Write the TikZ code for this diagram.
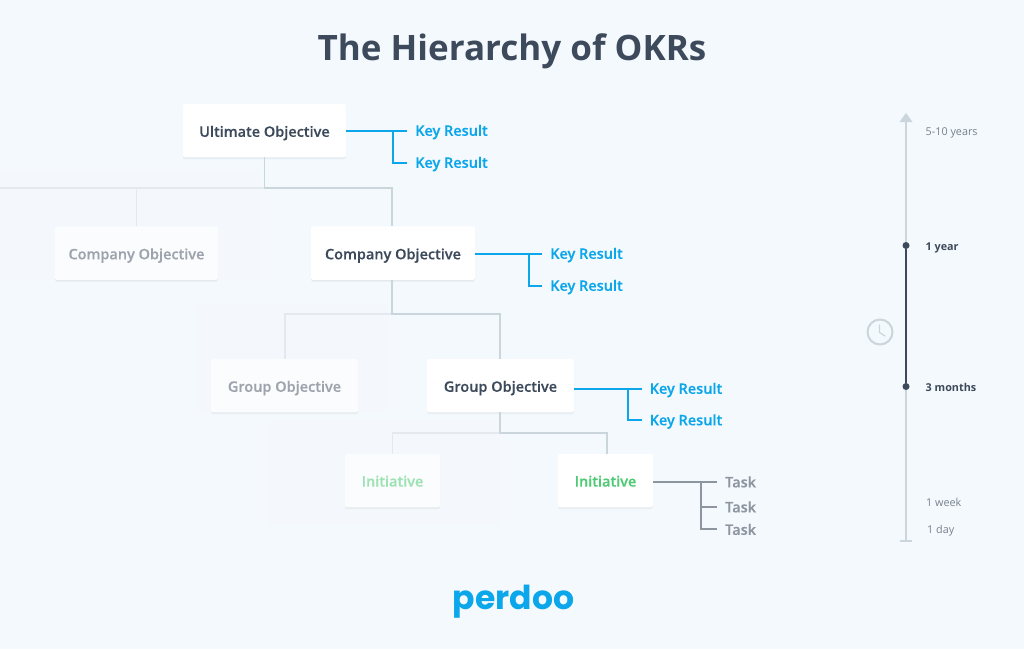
\documentclass[tikz,border=0pt]{standalone}
\usepackage{fontspec}
\setmainfont{Open Sans}
\newfontfamily\semifont[UprightFont=* Semibold,FakeBold=0.25]{Open Sans}
\newfontfamily\logofont[UprightFont=* Bold]{Poppins}
\usetikzlibrary{calc}
\definecolor{bgc}{HTML}{F4F9FD}
\definecolor{ink}{HTML}{3D4A5C}
\definecolor{blueL}{HTML}{0CA7EA}
\definecolor{greyL}{HTML}{CBD5DC}
\definecolor{fadeL}{HTML}{E3E9EE}
\definecolor{taskc}{HTML}{8D95A0}
\definecolor{greenT}{HTML}{4CCB73}
\definecolor{panel}{HTML}{F4F7FB}
\tikzset{
  x=1pt,y=-1pt,
  softshadow/.style={preaction={fill=black,fill opacity=.03,draw=none,rounded corners=2pt,transform canvas={yshift=-2pt},outer sep=0pt},
    preaction={fill=black,fill opacity=.03,draw=none,rounded corners=2pt,transform canvas={yshift=-1pt}}},
  card/.style={fill=white,rounded corners=1.5pt,softshadow,inner sep=0pt,font=\semifont\fontsize{14.5}{16}\selectfont,text=ink,minimum height=53.5pt,text height=15.6pt,text depth=3pt},
  faded/.style={card,fill=white!55!bgc,text=ink!50!white},
  initcard/.style={text height=12.1pt,text depth=0pt},
  keyres/.style={anchor=west,inner sep=0pt,text=blueL,font=\semifont\fontsize{14.5}{16}\selectfont,text height=13.6pt,text depth=3pt},
  tasktxt/.style={anchor=west,inner sep=0pt,text=taskc,font=\semifont\fontsize{14.5}{16}\selectfont,text height=11.7pt,text depth=0pt},
  blueline/.style={draw=blueL,line width=2pt},
  taskline/.style={draw=taskc,line width=2pt},
  link/.style={draw=greyL,line width=1.6pt},
  fadelink/.style={draw=fadeL,line width=1.5pt},
  timetxt/.style={anchor=west,inner sep=0pt,text=ink!70!white,font=\fontsize{10.8}{12}\selectfont},
  timebold/.style={anchor=west,inner sep=0pt,text=ink,font=\bfseries\fontsize{10.8}{12}\selectfont},
  dot/.style={circle,fill=ink,inner sep=0pt,minimum size=7pt},
}
\begin{document}
\begin{tikzpicture}
\useasboundingbox (0,0) rectangle (1024,649);
\fill[bgc] (0,0) rectangle (1024,649);
% faded panels
\fill[panel] (0,170) rectangle (260,280);
\fill[panel] (197,305) rectangle (388,412);
\fill[panel] (268,420) rectangle (500,525);
% title
\node[inner sep=0pt,text=ink,font=\bfseries\fontsize{35}{40}\selectfont] (title) at (512,51) {The Hierarchy of OKRs};
% cards
\node[card,minimum width=163pt] (uo) at (264.5,130.5) {Ultimate Objective};
\node[faded,minimum width=163pt] (co1) at (136.5,253) {Company Objective};
\node[card,minimum width=164pt] (co2) at (393,253) {Company Objective};
\node[faded,minimum width=147pt] (go1) at (284.5,385.5) {Group Objective};
\node[card,minimum width=147pt] (go2) at (500.5,385.5) {Group Objective};
\node[faded,initcard,minimum width=95pt,text=greenT!55!white] (in1) at (392.5,480.5) {Initiative};
\node[card,initcard,minimum width=95pt,text=greenT] (in2) at (605.5,480.5) {Initiative};
% tree links
\coordinate (edgeL) at (0,188);
\coordinate (j1) at (264.5,188);
\coordinate (j1b) at (136.5,188);
\coordinate (j1c) at (392,188);
\coordinate (j2) at (392,314);
\coordinate (j2b) at (285,314);
\coordinate (j2c) at (500,314);
\coordinate (j3) at (500,433);
\coordinate (j3b) at (392.5,433);
\coordinate (j3c) at (607,433);
\draw[fadelink] (edgeL) -- (j1) (j1b) -- (co1.north);
\draw[fadelink] (j2) -- (j2b) -- (go1.north -| j2b);
\draw[fadelink] (j3) -- (j3b) -- (in1.north);
\draw[link] (uo.south) -- (j1) -- (j1c) -- (co2.north -| j1c);
\draw[link] (co2.south -| j2) -- (j2) -- (j2c) -- (go2.north -| j2c);
\draw[link] (go2.south -| j3) -- (j3) -- (j3c) -- (in2.north -| j3c);
% key results
\node[keyres] (k1) at (415,130.5) {Key Result};
\node[keyres] (k2) at (415,162.5) {Key Result};
\node[keyres] (k3) at (550,253.5) {Key Result};
\node[keyres] (k4) at (550,285.5) {Key Result};
\node[keyres] (k5) at (649.5,388.5) {Key Result};
\node[keyres] (k6) at (649.5,420) {Key Result};
\draw[blueline] (uo.east |- k1) -- ($(k1.west)+(-8,0)$);
\draw[blueline] (393,130.5) -- (393,162.5) -- ($(k2.west)+(-8,0)$);
\draw[blueline] (co2.east |- k3) -- ($(k3.west)+(-8,0)$);
\draw[blueline] (529,253.5) -- (529,285.5) -- ($(k4.west)+(-8,0)$);
\draw[blueline] (go2.east |- k5) -- ($(k5.west)+(-8,0)$);
\draw[blueline] (628,388.5) -- (628,420) -- ($(k6.west)+(-8,0)$);
% tasks
\node[tasktxt] (t1) at (725,481.5) {Task};
\node[tasktxt] (t2) at (725,506.5) {Task};
\node[tasktxt] (t3) at (725,529) {Task};
\draw[taskline] (in2.east |- t1) -- ($(t1.west)+(-8,0)$);
\draw[taskline] (701,481.5) -- (701,529) -- ($(t3.west)+(-8,0)$);
\draw[taskline] (701,506.5) -- ($(t2.west)+(-8,0)$);
% timeline
\coordinate (tTop) at (906,118);
\coordinate (tBot) at (906,541);
\draw[greyL,line width=1.7pt] (tTop) -- (tBot);
\fill[greyL] (899.5,122) -- (906,113) -- (912.5,122) -- cycle;
\draw[greyL,line width=1.5pt] (900,541) -- (912,541);
\node[dot] (d1) at (906,245.5) {};
\node[dot] (d2) at (906,386.5) {};
\draw[ink,line width=2pt] (d1) -- (d2);
\node[timetxt] (l1) at (925.5,132.5) {5-10 years};
\node[timebold] (l2) at (925.5,247.5) {1 year};
\node[timebold] (l3) at (925.5,387) {3 months};
\node[timetxt] (l4) at (926,502) {1 week};
\node[timetxt] (l5) at (927,530.5) {1 day};
% clock
\draw[greyL,line width=2pt] (880,332) circle (12.5);
\draw[greyL,line width=1.2pt,line cap=round] (879.5,325) -- (879.5,332.5) -- (885,336);
% logo
\node[inner sep=0pt,text=blueL,font=\logofont\fontsize{33}{38}\selectfont] (logo) at (513.5,602) {perdoo};
\end{tikzpicture}
\end{document}
